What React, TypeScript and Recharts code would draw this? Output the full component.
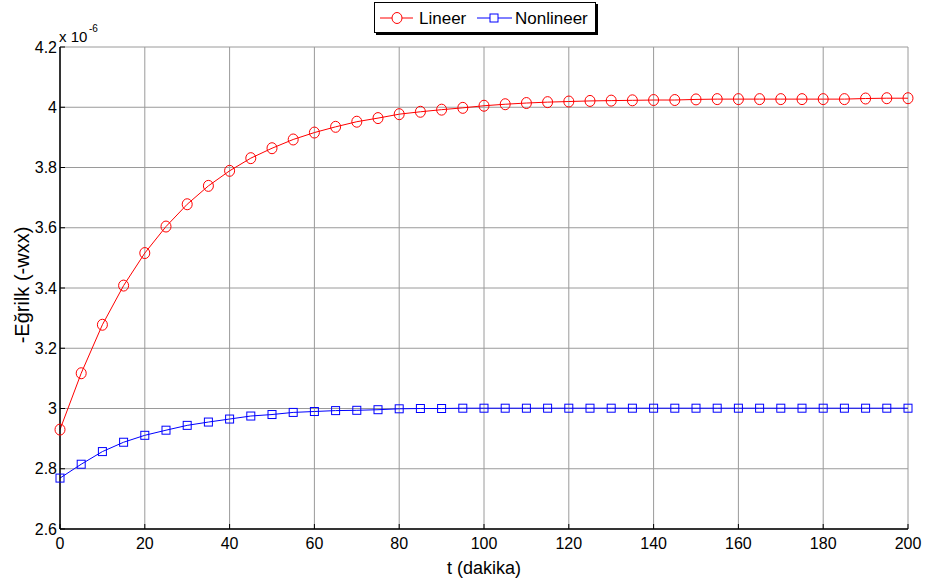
import React from 'react';
import {
  LineChart,
  Line,
  XAxis,
  YAxis,
  CartesianGrid,
  Legend,
} from 'recharts';

// time in minutes, curvature values in units of 1e-6
const times = [
  0, 5, 10, 15, 20, 25, 30, 35, 40, 45, 50, 55, 60, 65, 70, 75, 80, 85, 90, 95, 100,
  105, 110, 115, 120, 125, 130, 135, 140, 145, 150, 155, 160, 165, 170, 175, 180, 185, 190, 195, 200,
];

const lineer = [
  2.930, 3.117, 3.278, 3.408, 3.516, 3.604, 3.678, 3.739, 3.789, 3.831, 3.864, 3.893, 3.916, 3.935,
  3.952, 3.964, 3.977, 3.985, 3.992, 3.998, 4.005, 4.010, 4.014, 4.017, 4.019, 4.021, 4.022, 4.023,
  4.024, 4.024, 4.026, 4.027, 4.027, 4.027, 4.027, 4.027, 4.027, 4.027, 4.029, 4.030, 4.030,
];

const nonlineer = [
  2.769, 2.815, 2.857, 2.888, 2.911, 2.928, 2.944, 2.955, 2.965, 2.975, 2.980, 2.987, 2.990, 2.993,
  2.994, 2.996, 2.999, 3.000, 3.000, 3.001, 3.001, 3.001, 3.001, 3.001, 3.001, 3.001, 3.001, 3.001,
  3.001, 3.001, 3.001, 3.001, 3.001, 3.001, 3.001, 3.001, 3.001, 3.001, 3.001, 3.001, 3.001,
];

const xTicks = [0, 20, 40, 60, 80, 100, 120, 140, 160, 180, 200];
const yTicks = [2.6, 2.8, 3.0, 3.2, 3.4, 3.6, 3.8, 4.0, 4.2];

const data = times.map((t, i) => ({ t, lineer: lineer[i], nonlineer: nonlineer[i] }));

const FONT = "'Liberation Sans', Arial, Helvetica, sans-serif";
const RED = '#ff0000';
const BLUE = '#0000ff';

const SquareDot = (props: any) => {
  const { cx, cy } = props;
  if (cx == null || cy == null) return null;
  return <rect x={cx - 4} y={cy - 4} width={8} height={8} fill="none" stroke={BLUE} strokeWidth={1} />;
};

const CircleDot = (props: any) => {
  const { cx, cy } = props;
  if (cx == null || cy == null) return null;
  return <ellipse cx={cx} cy={cy} rx={5} ry={5.5} fill="none" stroke={RED} strokeWidth={1} />;
};

const LegendBox = () => (
  <div
    style={{
      width: 222,
      height: 31,
      border: '1px solid #000',
      boxShadow: '2px 2px 0 #000',
      background: '#fff',
      fontFamily: FONT,
      fontSize: 17,
      boxSizing: 'border-box',
    }}
  >
    <svg width={220} height={29}>
      <line x1={5} x2={38} y1={15} y2={15} stroke={RED} />
      <ellipse cx={22} cy={15} rx={5} ry={5.5} fill="#fff" stroke={RED} />
      <text x={44} y={21} fontSize={17} fontFamily={FONT} fill="#000">Lineer</text>
      <line x1={102} x2={137} y1={15} y2={15} stroke={BLUE} />
      <rect x={115} y={11} width={8} height={8} fill="#fff" stroke={BLUE} />
      <text x={140} y={21} fontSize={17} fontFamily={FONT} fill="#000">Nonlineer</text>
    </svg>
  </div>
);

const YLabel = (props: any) => {
  const { viewBox } = props;
  const cx = viewBox.x + 22;
  const cy = viewBox.y + viewBox.height / 2 - 3;
  return (
    <g>
      <text
        x={cx}
        y={cy}
        transform={`rotate(-90, ${cx}, ${cy})`}
        textAnchor="middle"
        dominantBaseline="central"
        fontFamily={FONT}
        fontSize={20}
        fill="#000"
      >
        -Eğrilk (-wxx)
      </text>
      <text x={viewBox.x + 59} y={viewBox.y - 5} fontFamily={FONT} fontSize={15} fill="#000">
        x 10
      </text>
      <text x={viewBox.x + 89} y={viewBox.y - 15} fontFamily={FONT} fontSize={10} fill="#000">
        -6
      </text>
    </g>
  );
};

const XLabel = (props: any) => {
  const { viewBox } = props;
  return (
    <text
      x={viewBox.x + viewBox.width / 2}
      y={viewBox.y + 45}
      textAnchor="middle"
      fontFamily={FONT}
      fontSize={18}
      fill="#000"
    >
      t (dakika)
    </text>
  );
};

const fmtY = (v: number) => String(Number(v.toFixed(1)));

export default function App() {
  const tickStyle = { fill: '#000', fontSize: 16, fontFamily: FONT };
  const axisLine = { stroke: '#000', strokeWidth: 1.5 };
  return (
    <div style={{ position: 'absolute', left: 0, top: 0, width: 928, height: 588, background: '#fff' }}>
      <LineChart
        width={928}
        height={588}
        data={data}
        margin={{ top: 47, right: 20, bottom: 0, left: 0 }}
      >
        <CartesianGrid xAxisId="bottom" yAxisId="left" stroke="#9a9a9a" />
        <XAxis
          xAxisId="bottom"
          dataKey="t"
          type="number"
          domain={[0, 200]}
          ticks={xTicks}
          interval={0}
          tick={tickStyle}
          axisLine={axisLine}
          tickLine={{ stroke: '#000' }}
          tickSize={-5}
          tickMargin={14}
          height={59}
          label={<XLabel />}
        />
        <XAxis
          xAxisId="top"
          orientation="top"
          dataKey="t"
          type="number"
          domain={[0, 200]}
          ticks={xTicks}
          interval={0}
          tick={false}
          axisLine={axisLine}
          tickLine={{ stroke: '#000' }}
          tickSize={-5}
          height={0}
        />
        <YAxis
          yAxisId="left"
          type="number"
          domain={[2.6, 4.2]}
          ticks={yTicks}
          interval={0}
          tickFormatter={fmtY}
          tick={tickStyle}
          axisLine={axisLine}
          tickLine={{ stroke: '#000' }}
          tickSize={-5}
          tickMargin={8}
          width={60}
          label={<YLabel />}
        />
        <YAxis
          yAxisId="right"
          orientation="right"
          type="number"
          domain={[2.6, 4.2]}
          ticks={yTicks}
          interval={0}
          tick={false}
          axisLine={axisLine}
          tickLine={{ stroke: '#000' }}
          tickSize={-5}
          width={0}
        />
        <Legend
          layout="horizontal"
          verticalAlign="middle"
          align="center"
          wrapperStyle={{ top: 2, left: 374, width: 224 }}
          content={() => <LegendBox />}
        />
        <Line
          xAxisId="bottom"
          yAxisId="left"
          type="linear"
          dataKey="lineer"
          name="Lineer"
          stroke={RED}
          strokeWidth={1}
          dot={<CircleDot />}
          activeDot={false}
          isAnimationActive={false}
        />
        <Line
          xAxisId="bottom"
          yAxisId="left"
          type="linear"
          dataKey="nonlineer"
          name="Nonlineer"
          stroke={BLUE}
          strokeWidth={1}
          dot={<SquareDot />}
          activeDot={false}
          isAnimationActive={false}
        />
      </LineChart>
    </div>
  );
}
